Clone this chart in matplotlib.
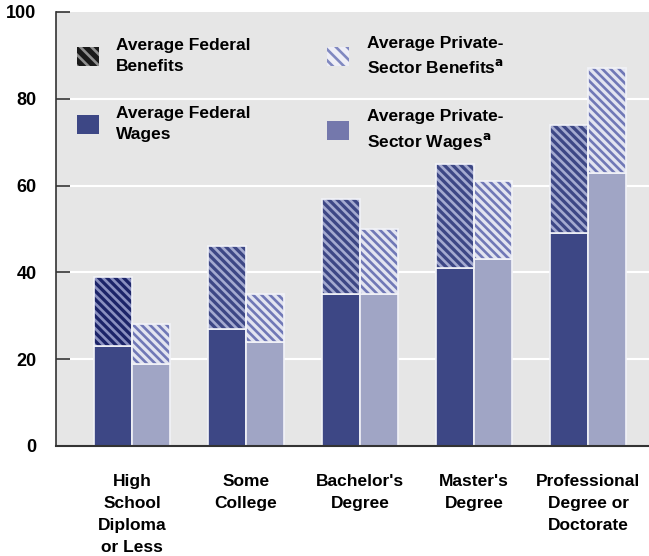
import numpy as np
import matplotlib
matplotlib.use("Agg")
import matplotlib.pyplot as plt
from matplotlib.patches import Patch

plt.rcParams.update({
    "font.family": ["Liberation Sans", "DejaVu Sans"],
    "font.weight": "bold",
    "hatch.linewidth": 1.9,
})

# average compensation by education, thousands of dollars
categories = ["High\nSchool\nDiploma\nor Less", "Some\nCollege", "Bachelor's\nDegree",
              "Master's\nDegree", "Professional\nDegree or\nDoctorate"]
federal_wages = [23, 27, 35, 41, 49]
federal_benefits = [16, 19, 22, 24, 25]
private_wages = [19, 24, 35, 43, 63]
private_benefits = [9, 11, 15, 18, 24]
yticks = [0, 20, 40, 60, 80, 100]

BG = "#e6e6e6"
FED = "#3d4785"
FED_HATCH = "#a4aad0"
PRIV = "#a0a5c5"
PRIV_BEN = "#e2e4f0"
PRIV_HATCH = "#7078b6"
EDGE = "#f2f3f8"
HATCH = "\\\\\\\\"

fig = plt.figure(figsize=(6.49, 5.56), dpi=100)
ax = fig.add_axes([56 / 649, 110 / 556, 593 / 649, 434 / 556])
ax.set_facecolor(BG)

x = np.arange(len(categories))
w = 0.333

# wages
ax.bar(x - w / 2, federal_wages, w, color=FED, edgecolor=EDGE, linewidth=1.2, zorder=2)
ax.bar(x + w / 2, private_wages, w, color=PRIV, edgecolor=EDGE, linewidth=1.2, zorder=2)

# benefits stacked on top: hatched fill first, then a light outline
fed_face = [FED] * len(x)
fed_hatch = [FED_HATCH] * len(x)
fed_face[0], fed_hatch[0] = "#1c2468", "#8a90c0"
for i in range(len(x)):
    ax.bar(x[i] - w / 2, federal_benefits[i], w, bottom=federal_wages[i],
           color=fed_face[i], edgecolor=fed_hatch[i], linewidth=0, hatch=HATCH, zorder=2)
    ax.bar(x[i] + w / 2, private_benefits[i], w, bottom=private_wages[i],
           color=PRIV_BEN, edgecolor=PRIV_HATCH, linewidth=0, hatch=HATCH, zorder=2)
ax.bar(x - w / 2, federal_benefits, w, bottom=federal_wages, facecolor="none",
       edgecolor=EDGE, linewidth=1.2, zorder=3)
ax.bar(x + w / 2, private_benefits, w, bottom=private_wages, facecolor="none",
       edgecolor=EDGE, linewidth=1.2, zorder=3)

ax.set_xlim(-0.667, 4.535)
ax.set_ylim(0, 100)
ax.set_yticks(yticks)
ax.set_yticklabels([str(v) for v in yticks], fontsize=13, fontweight="bold")
ax.set_xticks(x)
ax.set_xticklabels(categories, fontsize=12.5, fontweight="bold", linespacing=1.58)
ax.tick_params(axis="y", direction="in", length=10, width=1.2, color="#333333", pad=14)
ax.tick_params(axis="x", length=0, pad=20.5)
for v in yticks[1:-1]:
    ax.axhline(v, color="white", linewidth=1.5, zorder=1)
for s in ["top", "right"]:
    ax.spines[s].set_visible(False)
for s in ["left", "bottom"]:
    ax.spines[s].set_color("#333333")
    ax.spines[s].set_linewidth(1.5)
ax.spines["left"].set_linewidth(1.2)

handles = [
    Patch(facecolor="#1a1a1a", edgecolor="#909090", linewidth=0, hatch="\\\\\\"),
    Patch(facecolor=FED, edgecolor=FED, linewidth=0),
    Patch(facecolor="#eeeef6", edgecolor="#8088c0", linewidth=0, hatch="\\\\\\"),
    Patch(facecolor="#7478ac", edgecolor="#7478ac", linewidth=0),
]
labels = ["Average Federal\nBenefits", "Average Federal\nWages",
          "Average Private-\nSector Benefits$^{\\mathbf{a}}$",
          "Average Private-\nSector Wages$^{\\mathbf{a}}$"]
leg = ax.legend(handles, labels, ncol=2, loc="upper left", bbox_to_anchor=(0.0, 0.992),
                frameon=False, fontsize=12.5, handlelength=1.27, handleheight=1.27,
                handletextpad=1.0, labelspacing=1.87, columnspacing=4.4, borderaxespad=0.8)
for t in leg.get_texts():
    t.set_linespacing(1.45)

fig.savefig("out.png", dpi=100)
